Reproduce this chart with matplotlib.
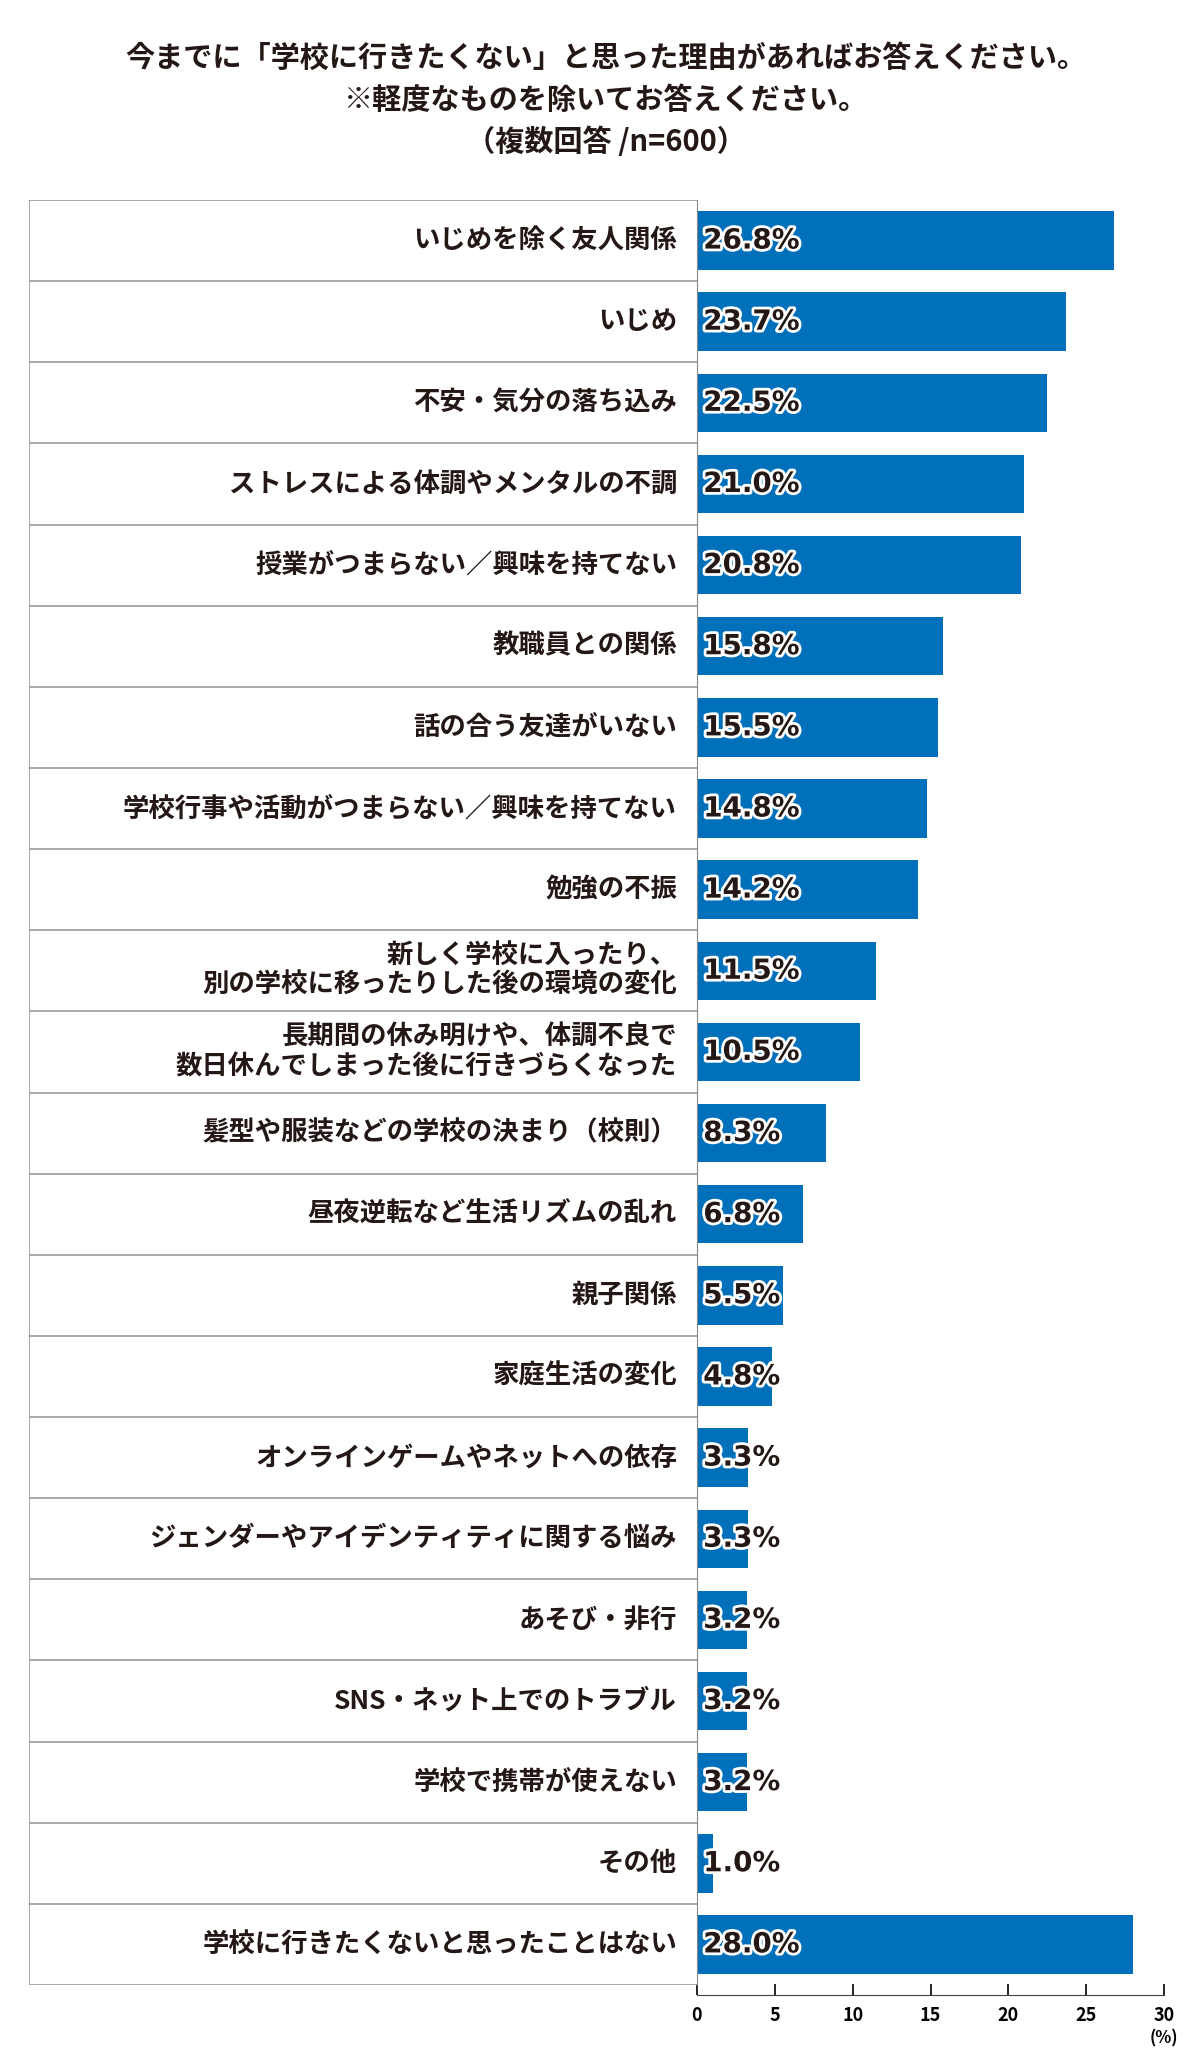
import matplotlib.pyplot as plt
import matplotlib.patheffects as pe

plt.rcParams['font.family'] = 'Noto Sans CJK JP'

labels = [
    'いじめを除く友人関係', 'いじめ', '不安・気分の落ち込み',
    'ストレスによる体調やメンタルの不調', '授業がつまらない／興味を持てない',
    '教職員との関係', '話の合う友達がいない',
    '学校行事や活動がつまらない／興味を持てない', '勉強の不振',
    '新しく学校に入ったり、\n別の学校に移ったりした後の環境の変化',
    '長期間の休み明けや、体調不良で\n数日休んでしまった後に行きづらくなった',
    '髪型や服装などの学校の決まり（校則）', '昼夜逆転など生活リズムの乱れ',
    '親子関係', '家庭生活の変化', 'オンラインゲームやネットへの依存',
    'ジェンダーやアイデンティティに関する悩み', 'あそび・非行',
    'SNS・ネット上でのトラブル', '学校で携帯が使えない', 'その他',
    '学校に行きたくないと思ったことはない',
]
values = [26.8, 23.7, 22.5, 21.0, 20.8, 15.8, 15.5, 14.8, 14.2, 11.5, 10.5,
          8.3, 6.8, 5.5, 4.8, 3.3, 3.3, 3.2, 3.2, 3.2, 1.0, 28.0]
ticks = [0, 5, 10, 15, 20, 25, 30]

W, H = 1200, 2060
fig = plt.figure(figsize=(12, 20.6), dpi=100)
n = len(labels)
top, bot = 200, 1985
x0, x1 = 697, 1164

ax = fig.add_axes([x0 / W, 1 - bot / H, (x1 - x0) / W, (bot - top) / H])
ax.set_xlim(0, 30)
ax.set_ylim(n, 0)
pos = [i + 0.5 for i in range(n)]
ax.barh(pos, values, height=0.72, color='#0070bb')
for y, v in zip(pos, values):
    ax.text(0.4, y, f'{v:.1f}%', va='center', ha='left', fontsize=20,
            fontweight='bold', color='#231815', family='DejaVu Sans Condensed',
            path_effects=[pe.withStroke(linewidth=4, foreground='white')])
for s in ['top', 'right']:
    ax.spines[s].set_visible(False)
ax.spines['bottom'].set_position(('outward', 7))
ax.spines['left'].set_bounds(0, n)
ax.spines['bottom'].set_color('#444444')
ax.spines['left'].set_color('#888888')
ax.set_yticks([])
ax.set_xticks(ticks)
ax.tick_params(axis='x', direction='in', length=8, labelsize=13, width=1.2, pad=8)
for t in ax.get_xticklabels():
    t.set_fontweight('bold')
ax.text(30, n + 0.55, '(%)', ha='center', va='top', fontsize=12, fontweight='bold')

# label column
lx0 = 29
lab = fig.add_axes([lx0 / W, 1 - bot / H, (x0 - lx0) / W, (bot - top) / H])
lab.set_xlim(0, 1)
lab.set_ylim(n, 0)
lab.hlines(range(n + 1), 0, 1, color='#999999', lw=1.2)
lab.vlines(0, 0, n, color='#999999', lw=1.2)
for y, t in zip(pos, labels):
    lab.text(0.97, y, t, ha='right', va='center', fontsize=19, fontweight='bold',
             color='#231815', linespacing=1.1)
lab.axis('off')

for yy, t in [(58, '今までに「学校に行きたくない」と思った理由があればお答えください。'),
              (100, '※軽度なものを除いてお答えください。'),
              (142, '（複数回答 /n=600）')]:
    fig.text(0.505, 1 - yy / H, t, ha='center', va='center', fontsize=21,
             fontweight='bold', color='#231815')

fig.savefig('out.png', dpi=100, facecolor='white')
